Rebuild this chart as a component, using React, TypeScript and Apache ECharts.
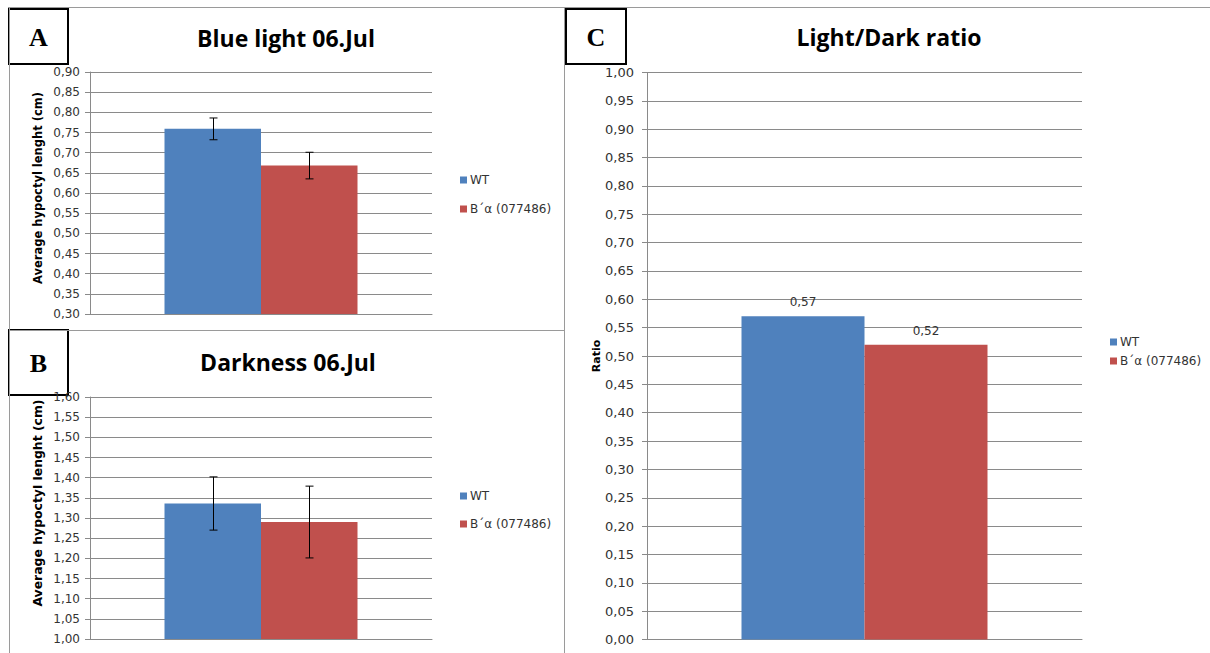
import React, { useEffect, useRef } from 'react';
import * as echarts from 'echarts';

const categories = [''];
const seriesNames = ['WT', 'B´α (077486)'];
const blueLightMeans = [0.759, 0.668];
const blueLightErrors = [0.027, 0.033];
const darknessMeans = [1.336, 1.29];
const darknessErrors = [0.066, 0.089];
const ratioValues = [0.57, 0.52];
const panelTitles = ['Blue light 06.Jul', 'Darkness 06.Jul', 'Light/Dark ratio'];
const panelLetters = ['A', 'B', 'C'];
const yAxisNames = ['Average hypoctyl lenght (cm)', 'Average hypoctyl lenght (cm)', 'Ratio'];
const yRanges = [
  [0.3, 0.9],
  [1.0, 1.6],
  [0.0, 1.0],
];

const COLORS = ['#4F81BD', '#C0504D'];
const GRID = '#8a8a8a';
const BORDER = '#9a9a9a';
const fmt = (v: number) => v.toFixed(2).replace('.', ',');

const errorSeries = (axis: number, means: number[], errors: number[], idx: number, offset: number) => ({
  type: 'custom',
  xAxisIndex: axis,
  yAxisIndex: axis,
  z: 10,
  silent: true,
  data: [[0, means[idx] - errors[idx], means[idx] + errors[idx]]],
  renderItem: (_p: any, api: any) => {
    const lo = api.coord([api.value(0), api.value(1)]);
    const hi = api.coord([api.value(0), api.value(2)]);
    const x = Math.round(lo[0] + offset) + 0.5;
    const st = { stroke: '#000', lineWidth: 1 };
    return {
      type: 'group',
      children: [
        { type: 'line', shape: { x1: x, y1: hi[1], x2: x, y2: lo[1] }, style: st },
        { type: 'line', shape: { x1: x - 4, y1: hi[1], x2: x + 4, y2: hi[1] }, style: st },
        { type: 'line', shape: { x1: x - 4, y1: lo[1], x2: x + 4, y2: lo[1] }, style: st },
      ],
    };
  },
});

const makeYAxis = (i: number, fontSize: number, margin: number) => ({
  type: 'value',
  gridIndex: i,
  min: yRanges[i][0],
  max: yRanges[i][1],
  interval: 0.05,
  axisLine: { show: true, lineStyle: { color: GRID, width: 1 } },
  axisTick: { show: true, length: 5, lineStyle: { color: GRID } },
  splitLine: { show: true, lineStyle: { color: GRID, width: 1 } },
  axisLabel: { formatter: fmt, fontSize, color: '#333', margin, fontFamily: 'DejaVu Sans' },
});

const makeXAxis = (i: number) => ({
  type: 'category',
  gridIndex: i,
  data: categories,
  axisLine: { show: true, lineStyle: { color: GRID, width: 1 } },
  axisTick: { show: false },
  axisLabel: { show: false },
});

const makeLegend = (left: number, top: number, gap: number) => ({
  orient: 'vertical',
  left,
  top,
  itemWidth: 7,
  itemHeight: 7,
  itemGap: gap,
  icon: 'rect',
  data: seriesNames,
  selectedMode: false,
  textStyle: { fontSize: 12, color: '#333', fontFamily: 'DejaVu Sans', padding: [0, 0, 0, -2] },
});

const line = (x1: number, y1: number, x2: number, y2: number) => ({
  type: 'line',
  shape: { x1, y1, x2, y2 },
  style: { stroke: BORDER, lineWidth: 1 },
  z: 1,
});

const letterBox = (letter: string, x: number, y: number, w: number, h: number) => ({
  type: 'group',
  z: 20,
  children: [
    { type: 'rect', shape: { x, y, width: w, height: h }, style: { fill: '#fff', stroke: '#000', lineWidth: 2 } },
    {
      type: 'text',
      x: x + w / 2,
      y: y + h / 2 + 1,
      style: {
        text: letter,
        fontFamily: 'Liberation Serif',
        fontWeight: 'bold',
        fontSize: 26,
        fill: '#000',
        textAlign: 'center',
        textVerticalAlign: 'middle',
      },
    },
  ],
});

const titleText = (text: string, x: number, y: number, size: number) => ({
  type: 'text',
  x,
  y,
  z: 20,
  style: {
    text,
    fontFamily: 'Open Sans',
    fontWeight: 'bold',
    fontSize: size,
    fill: '#000',
    textAlign: 'center',
    textVerticalAlign: 'middle',
  },
});

const yName = (text: string, x: number, y: number, size: number, stretch: number) => ({
  type: 'text',
  x,
  y,
  rotation: Math.PI / 2,
  scaleX: stretch,
  z: 20,
  style: {
    text,
    fontFamily: 'DejaVu Sans',
    fontWeight: 'bold',
    fontSize: size,
    fill: '#000',
    textAlign: 'center',
    textVerticalAlign: 'middle',
  },
});

export default function App() {
  const ref = useRef<HTMLDivElement>(null);
  useEffect(() => {
    if (!ref.current) return;
    const chart = echarts.init(ref.current, undefined, { renderer: 'svg' });
    const option: any = {
      animation: false,
      backgroundColor: '#fff',
      grid: [
        { left: 90, top: 72, width: 342, height: 242 },
        { left: 90, top: 397, width: 342, height: 242 },
        { left: 647, top: 72.5, width: 435, height: 567 },
      ],
      xAxis: [makeXAxis(0), makeXAxis(1), makeXAxis(2)],
      yAxis: [makeYAxis(0, 12, 10), makeYAxis(1, 12, 10), makeYAxis(2, 13, 13)],
      legend: [makeLegend(455, 169, 17), makeLegend(455, 485, 16), makeLegend(1105, 331, 7)],
      series: [
        { type: 'bar', name: seriesNames[0], xAxisIndex: 0, yAxisIndex: 0, data: [blueLightMeans[0]], barWidth: 96.5, barGap: '0%', itemStyle: { color: COLORS[0] } },
        { type: 'bar', name: seriesNames[1], xAxisIndex: 0, yAxisIndex: 0, data: [blueLightMeans[1]], barWidth: 96.5, barGap: '0%', itemStyle: { color: COLORS[1] } },
        errorSeries(0, blueLightMeans, blueLightErrors, 0, -48),
        errorSeries(0, blueLightMeans, blueLightErrors, 1, 48),
        { type: 'bar', name: seriesNames[0], xAxisIndex: 1, yAxisIndex: 1, data: [darknessMeans[0]], barWidth: 96.5, barGap: '0%', itemStyle: { color: COLORS[0] } },
        { type: 'bar', name: seriesNames[1], xAxisIndex: 1, yAxisIndex: 1, data: [darknessMeans[1]], barWidth: 96.5, barGap: '0%', itemStyle: { color: COLORS[1] } },
        errorSeries(1, darknessMeans, darknessErrors, 0, -48),
        errorSeries(1, darknessMeans, darknessErrors, 1, 48),
        {
          type: 'bar', name: seriesNames[0], xAxisIndex: 2, yAxisIndex: 2, data: [ratioValues[0]], barWidth: 123, barGap: '0%',
          itemStyle: { color: COLORS[0] },
          label: { show: true, position: 'top', distance: 8, formatter: (p: any) => fmt(p.value), fontSize: 12, color: '#333', fontFamily: 'DejaVu Sans' },
        },
        {
          type: 'bar', name: seriesNames[1], xAxisIndex: 2, yAxisIndex: 2, data: [ratioValues[1]], barWidth: 123, barGap: '0%',
          itemStyle: { color: COLORS[1] },
          label: { show: true, position: 'top', distance: 8, formatter: (p: any) => fmt(p.value), fontSize: 12, color: '#333', fontFamily: 'DejaVu Sans' },
        },
      ],
      graphic: [
        line(8, 7.5, 1210, 7.5),
        line(9.5, 7.5, 9.5, 653),
        line(9.5, 330.5, 564, 330.5),
        line(564.5, 7.5, 564.5, 653),
        letterBox(panelLetters[0], 9, 9, 59, 55),
        letterBox(panelLetters[1], 9, 330, 59, 65),
        letterBox(panelLetters[2], 566, 9, 60, 55),
        titleText(panelTitles[0], 286, 38, 23),
        titleText(panelTitles[1], 288, 362, 23),
        titleText(panelTitles[2], 889, 37, 23),
        yName(yAxisNames[0], 38, 188, 11.5, 1.0),
        yName(yAxisNames[1], 38, 503, 11.5, 1.08),
        yName(yAxisNames[2], 596, 356, 11, 1.0),
      ],
    };
    chart.setOption(option);
    return () => chart.dispose();
  }, []);
  return <div ref={ref} style={{ position: 'absolute', left: 0, top: 0, width: 1210, height: 653 }} />;
}
